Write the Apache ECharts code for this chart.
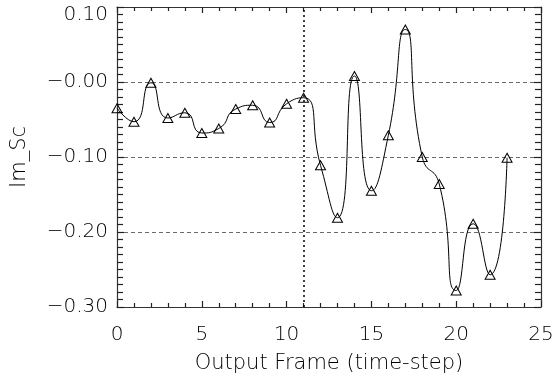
<!DOCTYPE html>
<html><head><meta charset="utf-8">
<script src="https://cdn.jsdelivr.net/npm/echarts@6/dist/echarts.min.js"></script>
<style>html,body{margin:0;padding:0;background:#fff}#c{width:555px;height:376px}</style>
</head><body><div id="c"></div>
<script>
const frames = [0,1,2,3,4,5,6,7,8,9,10,11,12,13,14,15,16,17,18,19,20,21,22,23];
const imSc = [-0.035,-0.053,-0.001,-0.048,-0.041,-0.068,-0.062,-0.036,-0.031,-0.054,-0.029,-0.021,
  -0.111,-0.181,0.008,-0.145,-0.071,0.070,-0.100,-0.136,-0.278,-0.189,-0.257,-0.101];
const markerFrame = 11;

const FONT = 'DejaVu Sans';
const lab = () => ({fontFamily: FONT, fontSize: 20, fontWeight: 200, color: '#000'});
const nm = () => ({fontFamily: FONT, fontSize: 21, fontWeight: 200, color: '#000'});
const chart = echarts.init(document.getElementById('c'), null, {renderer: 'canvas'});
function yfmt(v){
  let s;
  if (Math.abs(v) < 1e-9) s = '\u2212' + '0.00';
  else s = (v < 0 ? '\u2212' : '') + Math.abs(v).toFixed(2);
  return v > 0.09 ? '{t|' + s + '}' : s;
}
const axLine = () => ({show: true, onZero: false, lineStyle: {color: '#333', width: 1.2}});
const tk = (len) => ({show: true, inside: true, length: len, lineStyle: {color: '#222', width: 1.2}});
const mtk = (n, len) => ({show: true, splitNumber: n, length: len, lineStyle: {color: '#222', width: 1.2}});
const xBase = () => ({type: 'value', min: 0, max: 25, interval: 5,
  axisLine: axLine(), axisTick: tk(6), minorTick: mtk(5, 4), splitLine: {show: false}});
const yBase = () => ({type: 'value', min: -0.3, max: 0.1, interval: 0.1,
  axisLine: axLine(), axisTick: tk(7), minorTick: mtk(10, 6)});
chart.setOption({
  animation: false,
  grid: {left: 117, right: 14, top: 7, bottom: 69, outerBoundsMode: 'none', containLabel: false},
  xAxis: [
    Object.assign(xBase(), {
      name: 'Output Frame (time-step)', nameLocation: 'middle', nameGap: 46,
      nameTextStyle: nm(),
      axisLabel: Object.assign({margin: 18}, lab())
    }),
    Object.assign(xBase(), {position: 'top', axisLabel: {show: false}})
  ],
  yAxis: [
    Object.assign(yBase(), {
      name: 'Im_Sc', nameLocation: 'middle', nameGap: 87,
      nameTextStyle: nm(),
      axisLabel: Object.assign({margin: 9, formatter: yfmt,
        rich: {t: Object.assign({padding: [16, 0, 0, 0]}, lab())}}, lab()),
      splitLine: {show: true, lineStyle: {color: '#444', width: 0.8, type: [4, 3]}}
    }),
    Object.assign(yBase(), {position: 'right', axisLabel: {show: false}, splitLine: {show: false}})
  ],
  series: [{
    type: 'line',
    data: frames.map((f, i) => [f, imSc[i]]),
    smooth: 0.6,
    symbol: 'triangle', symbolSize: [10, 9],
    lineStyle: {color: '#000', width: 1},
    itemStyle: {color: 'rgba(0,0,0,0)', borderColor: '#000', borderWidth: 1},
    markLine: {
      silent: true, symbol: 'none', label: {show: false},
      lineStyle: {color: '#000', width: 1.5, type: [2, 3]},
      data: [{xAxis: markerFrame}]
    }
  }]
});
</script></body></html>
